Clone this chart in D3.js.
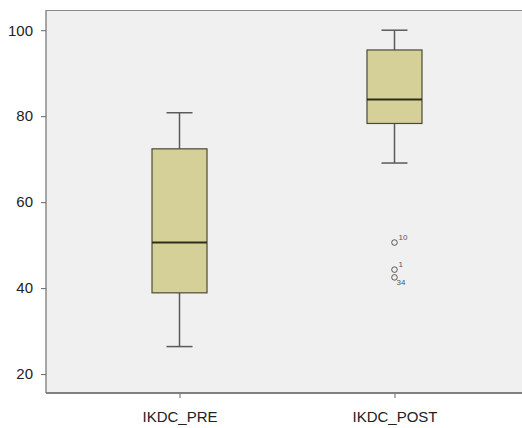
<!DOCTYPE html>
<html>
<head>
<meta charset="utf-8">
<script src="https://cdn.jsdelivr.net/npm/d3@7/dist/d3.min.js"></script>
<style>
  body { margin: 0; background: #fff; }
  text { font-family: "Liberation Sans", Arial, sans-serif; }
</style>
</head>
<body>
<div id="chart"></div>
<script>
// data (box stats per variable)
const categories = ["IKDC_PRE", "IKDC_POST"];
const whiskerLow = [26.4, 69.1];
const q1 = [38.9, 78.3];
const medians = [50.6, 83.9];
const q3 = [72.4, 95.4];
const whiskerHigh = [80.8, 100];

const outlierCat = ["IKDC_POST", "IKDC_POST", "IKDC_POST"];
const outlierVal = [50.6, 44.3, 42.5];
const outlierId = ["10", "1", "34"];

const yTicks = [20, 40, 60, 80, 100];

const W = 522, H = 428;
const plotL = 46, plotT = 10, plotB = 393;

const svg = d3.select("#chart").append("svg")
    .attr("width", W)
    .attr("height", H);

const y = d3.scaleLinear()
    .domain([15.6, 104.7])
    .range([plotB, plotT]);

const x = d3.scalePoint()
    .domain(categories)
    .range([plotL, plotL + 482])
    .padding(0.621);

// plot background
svg.append("rect")
    .attr("x", plotL)
    .attr("y", plotT)
    .attr("width", W - plotL)
    .attr("height", plotB - plotT)
    .attr("fill", "#f0f0f0");

// frame: top, left, bottom
svg.append("line")
    .attr("x1", plotL).attr("x2", W)
    .attr("y1", plotT + 0.5).attr("y2", plotT + 0.5)
    .attr("stroke", "#8a8a8a").attr("stroke-width", 1.2);

svg.append("line")
    .attr("x1", plotL).attr("x2", plotL)
    .attr("y1", plotT).attr("y2", plotB)
    .attr("stroke", "#8a8a8a").attr("stroke-width", 1.5);

svg.append("line")
    .attr("x1", plotL).attr("x2", W)
    .attr("y1", plotB).attr("y2", plotB)
    .attr("stroke", "#808080").attr("stroke-width", 2);

// y axis ticks
const yAxis = svg.append("g")
    .attr("transform", "translate(" + plotL + ",0)")
    .call(d3.axisLeft(y).tickValues(yTicks).tickSize(5).tickPadding(8));
yAxis.select(".domain").remove();
yAxis.selectAll(".tick line").attr("stroke", "#666");
yAxis.selectAll(".tick text")
    .attr("font-size", 15)
    .attr("fill", "#222")
    .attr("font-family", "Liberation Sans, Arial, sans-serif");

// x axis ticks
const xAxis = svg.append("g")
    .attr("transform", "translate(0," + (plotB + 1) + ")")
    .call(d3.axisBottom(x).tickSize(4).tickPadding(13));
xAxis.select(".domain").remove();
xAxis.selectAll(".tick line").attr("stroke", "#666");
xAxis.selectAll(".tick text")
    .attr("font-size", 15)
    .attr("fill", "#222")
    .attr("font-family", "Liberation Sans, Arial, sans-serif");

const boxW = 55, capW = 26;

const boxes = svg.append("g").selectAll("g")
    .data(categories)
    .enter()
    .append("g");

// whiskers
boxes.append("line")
    .attr("x1", d => x(d)).attr("x2", d => x(d))
    .attr("y1", (d, i) => y(whiskerHigh[i])).attr("y2", (d, i) => y(q3[i]))
    .attr("stroke", "#5a5a5a").attr("stroke-width", 1.5);
boxes.append("line")
    .attr("x1", d => x(d)).attr("x2", d => x(d))
    .attr("y1", (d, i) => y(q1[i])).attr("y2", (d, i) => y(whiskerLow[i]))
    .attr("stroke", "#5a5a5a").attr("stroke-width", 1.5);

// caps
boxes.append("line")
    .attr("x1", d => x(d) - capW / 2).attr("x2", d => x(d) + capW / 2)
    .attr("y1", (d, i) => y(whiskerHigh[i])).attr("y2", (d, i) => y(whiskerHigh[i]))
    .attr("stroke", "#5a5a5a").attr("stroke-width", 1.5);
boxes.append("line")
    .attr("x1", d => x(d) - capW / 2).attr("x2", d => x(d) + capW / 2)
    .attr("y1", (d, i) => y(whiskerLow[i])).attr("y2", (d, i) => y(whiskerLow[i]))
    .attr("stroke", "#5a5a5a").attr("stroke-width", 1.5);

// box
boxes.append("rect")
    .attr("x", d => x(d) - boxW / 2)
    .attr("width", boxW)
    .attr("y", (d, i) => y(q3[i]))
    .attr("height", (d, i) => y(q1[i]) - y(q3[i]))
    .attr("fill", "#d5d098")
    .attr("stroke", "#4a4a3a")
    .attr("stroke-width", 1.2);

// median
boxes.append("line")
    .attr("x1", d => x(d) - boxW / 2).attr("x2", d => x(d) + boxW / 2)
    .attr("y1", (d, i) => y(medians[i])).attr("y2", (d, i) => y(medians[i]))
    .attr("stroke", "#2e2e1c").attr("stroke-width", 2);

// outliers
const outliers = svg.append("g");
outlierVal.forEach((v, i) => {
    outliers.append("circle")
        .attr("cx", x(outlierCat[i]))
        .attr("cy", y(v))
        .attr("r", 2.8)
        .attr("fill", "none")
        .attr("stroke", "#555")
        .attr("stroke-width", 1);
});

// outlier case labels
const labDx = [4, 4, 2];
const labDy = [-3, -3, 8];
outlierVal.forEach((v, i) => {
    outliers.append("text")
        .attr("x", x(outlierCat[i]) + labDx[i])
        .attr("y", y(v) + labDy[i])
        .attr("font-size", 8)
        .attr("fill", "#555")
        .text(outlierId[i]);
});
</script>
</body>
</html>
